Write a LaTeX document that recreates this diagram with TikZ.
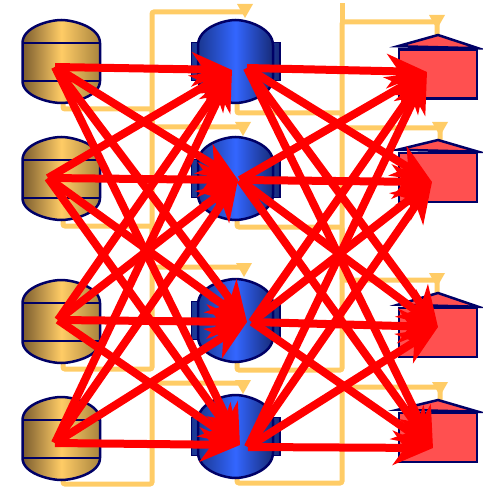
\documentclass[tikz,border=0pt]{standalone}
\usetikzlibrary{arrows.meta}
\definecolor{navy}{HTML}{000066}
\definecolor{yel}{HTML}{FFCC66}
\definecolor{gold}{HTML}{FFCC66}
\definecolor{golddark}{HTML}{7A5C2E}
\definecolor{goldright}{HTML}{A8843E}
\definecolor{bluemid}{HTML}{3366FF}
\definecolor{bluedark}{HTML}{1A3790}
\definecolor{bluedarkr}{HTML}{172B78}
\definecolor{housered}{HTML}{FF5050}
\begin{document}
\begin{tikzpicture}[x=1pt,y=-1pt,
  holder/.style={draw=none, minimum width=77pt, minimum height=83pt, inner sep=0pt},
  goldfill/.style={draw=navy, line width=2.5pt, left color=golddark, right color=goldright, middle color=gold},
  bluefill/.style={draw=navy, line width=2.5pt, left color=bluedark, right color=bluedarkr, middle color=bluemid},
  band/.style={draw=navy, line width=2pt},
  lshape/.pic={
    \path[goldfill] (-38.75,-18.5) .. controls (-38.75,-34.6) and (-11.6,-41.5) .. (0,-41.5)
       .. controls (11.6,-41.5) and (38.75,-34.6) .. (38.75,-18.5) -- (38.75,19.5)
       .. controls (38.75,35) and (11.6,41.5) .. (0,41.5)
       .. controls (-11.6,41.5) and (-38.75,35) .. (-38.75,19.5) -- cycle;
    \draw[band] (-38.75,-18.5) -- (38.75,-18.5);
    \draw[band] (-38.75,19.5) -- (38.75,19.5);},
  mshape/.pic={
    \path[bluefill, line width=1.5pt] (-44.25,-19) rectangle (44.25,19);
    \path[bluefill] (-37.5,-16) .. controls (-37.5,-34) and (-11.2,-41.5) .. (0,-41.5)
       .. controls (11.2,-41.5) and (37.5,-34) .. (37.5,-16) -- (37.5,16)
       .. controls (37.5,34) and (11.2,41.5) .. (0,41.5)
       .. controls (-11.2,41.5) and (-37.5,34) .. (-37.5,16) -- cycle;},
  rbody/.style={draw=navy, line width=2.5pt, fill=housered, minimum width=78pt, minimum height=49pt, inner sep=0pt},
  roof/.style={draw=navy, line width=2.5pt, fill=housered, line join=miter},
  wire/.style={draw=yel, line width=5pt, rounded corners=2pt},
  ytri/.pic={\fill[yel] (-8,0) -- (8,0) -- (0,14) -- cycle;},
  link/.style={draw=red, line width=8pt, -{Stealth[length=40pt,width=34pt,inset=12pt]}},
]
\useasboundingbox (0,0) rectangle (482,489);

% yellow wires: left to middle
\draw[wire] (63,100) |- (152,109) |- (243,127);
\draw[wire] (63,218) |- (152,226) |- (244,267);
\draw[wire] (63,360) |- (152,369) |- (245,12);
\draw[wire] (63,477) |- (152,484) |- (243,383);
\pic at (245,4) {ytri};
\pic at (243,122) {ytri};
\pic at (244,263) {ytri};
\pic at (243,380) {ytri};

% yellow wires: middle to right
\draw[wire] (237,100) |- (342,113) |- (440,128) -- (440,141);
\draw[wire] (237,218) |- (342,227) |- (437,280) -- (437,294);
\draw[wire] (237,360) |- (342,370) |- (437,22) -- (437,36);
\draw[wire] (237,475) |- (342,483) |- (440,387) -- (440,401);
\draw[wire] (342,24) -- (342,3);
\pic at (437,15) {ytri};
\pic at (440,122) {ytri};
\pic at (437,273) {ytri};
\pic at (440,382) {ytri};

% left nodes
\foreach \c [count=\k] in {61.5,178.5,321.5,438.5}{
  \pic at (61.25,\c) {lshape};
  \node[holder] (l\k) at (61.25,\c) {};
}

% middle nodes
\foreach \c [count=\k] in {61.5,178.5,320.5,436.5}{
  \pic at (235.5,\c) {mshape};
  \node[holder] (m\k) at (235.5,\c) {};
}

% right nodes
\foreach \c/\p [count=\k] in {74/35,177.5/140,332.5/293,437.5/400}{
  \node[rbody] (r\k) at (438,\c) {};
  \filldraw[roof] ([yshift=2pt]r\k.north west) -- (438,\p) -- (r\k.north east) -- cycle;
}

% link end points
\coordinate (ls1) at (55,67);
\coordinate (ls2) at (48,178);
\coordinate (ls3) at (58,320);
\coordinate (ls4) at (55,443);
\coordinate (mt1) at (232,70);
\coordinate (mt2) at (238,180);
\coordinate (mt3) at (247,322);
\coordinate (mt4) at (240,445);
\coordinate (ms1) at (247,68);
\coordinate (ms2) at (240,180);
\coordinate (ms3) at (252,322);
\coordinate (ms4) at (248,447);
\coordinate (rt1) at (427,72);
\coordinate (rt2) at (432,182);
\coordinate (rt3) at (438,327);
\coordinate (rt4) at (433,448);

\foreach \i in {1,...,4}{
  \foreach \j in {1,...,4}{
    \draw[link] (ls\i) -- (mt\j);
    \draw[link] (ms\i) -- (rt\j);
  }
}
\end{tikzpicture}
\end{document}
